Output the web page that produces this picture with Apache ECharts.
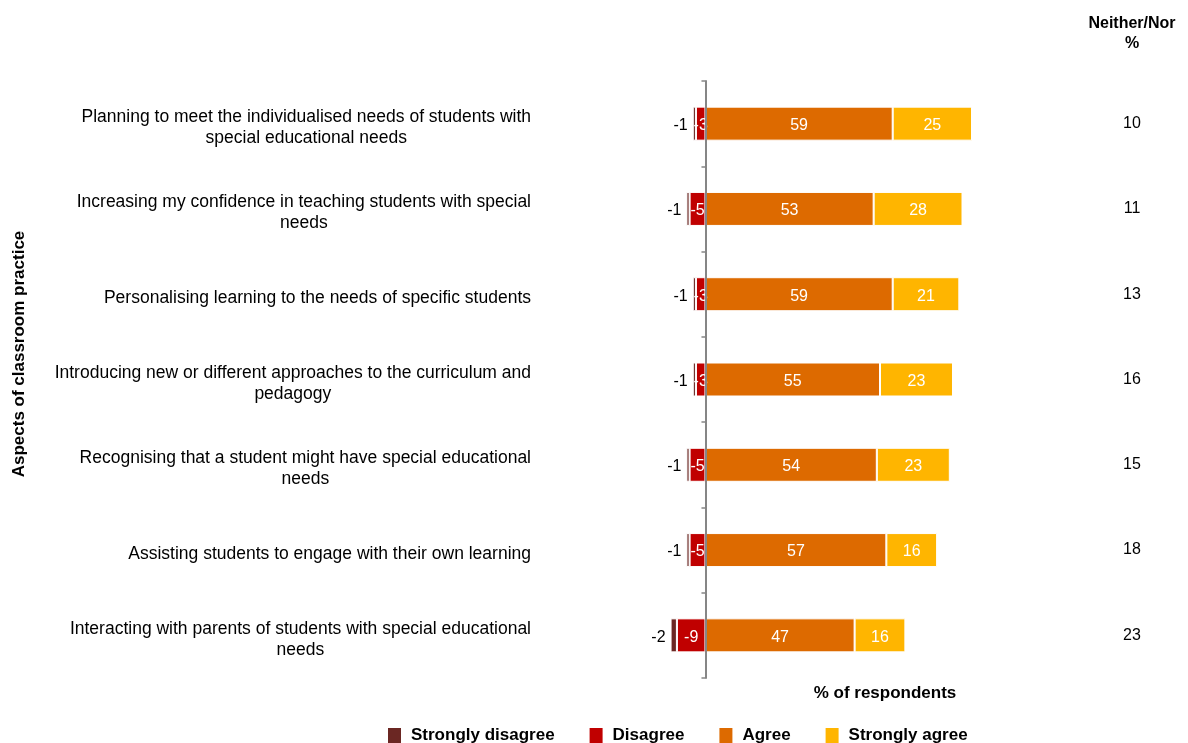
<!DOCTYPE html>
<html>
<head>
<meta charset="utf-8">
<script src="https://cdn.jsdelivr.net/npm/echarts@6/dist/echarts.min.js"></script>
<style>
  html, body { margin: 0; padding: 0; background: #fff; }
  #chart { width: 1188px; height: 743px; }
</style>
</head>
<body>
<div id="chart"></div>
<script>
// Aspects of classroom practice (category labels, line breaks as displayed)
const categories = [
  'Planning to meet the individualised needs of students with\nspecial educational needs',
  'Increasing my confidence in teaching students with special\nneeds',
  'Personalising learning to the needs of specific students',
  'Introducing new or different approaches to the curriculum and\npedagogy',
  'Recognising that a student might have special educational\nneeds',
  'Assisting students to engage with their own learning',
  'Interacting with parents of students with special educational\nneeds'
];

// % of respondents per response
const stronglyDisagree = [-1, -1, -1, -1, -1, -1, -2];
const disagree         = [-3, -5, -3, -3, -5, -5, -9];
const agree            = [59, 53, 59, 55, 54, 57, 47];
const stronglyAgree    = [25, 28, 21, 23, 23, 16, 16];
const neitherNor       = [10, 11, 13, 16, 15, 18, 23];

const FONT = '"Liberation Sans", Arial, sans-serif';

const chart = echarts.init(document.getElementById('chart'));

const inside = {
  show: true, position: 'inside', color: '#fff', offset: [0, 2],
  fontFamily: FONT, fontSize: 16
};

function barSeries(name, data, color, label) {
  return {
    name: name, type: 'bar', stack: 'resp', data: data,
    barWidth: 34, z: 2,
    itemStyle: { color: color, borderColor: '#fff', borderWidth: 1 },
    label: label,
    emphasis: { disabled: true }
  };
}

chart.setOption({
  animation: false,
  backgroundColor: '#fff',
  textStyle: { fontFamily: FONT },
  grid: { left: 642, width: 476, top: 81, height: 597 },
  xAxis: {
    type: 'value', min: -20, max: 130, show: false
  },
  yAxis: [
    {
      type: 'category', inverse: true, data: categories, z: 5,
      axisLine: { show: true, onZero: true, lineStyle: { color: '#868686', width: 2 } },
      axisTick: { show: true, length: 4, lineStyle: { color: '#868686', width: 1.5 } },
      axisLabel: {
        margin: 111, align: 'right', padding: [8, 0, 0, 0],
        formatter: function (v) {
          return v.split('\n').map(function (l) { return '{c|' + l + '}'; }).join('\n');
        },
        rich: { c: { align: 'center', fontFamily: FONT, fontSize: 17.5, lineHeight: 21, color: '#000' } }
      },
      splitLine: { show: false }
    },
    {
      type: 'category', inverse: true, position: 'right',
      data: neitherNor.map(String),
      axisLine: { show: false, onZero: false },
      axisTick: { show: false },
      axisLabel: { margin: 14, align: 'center', fontFamily: FONT, fontSize: 16, color: '#000' },
      splitLine: { show: false }
    }
  ],
  legend: {
    data: ['Strongly disagree', 'Disagree', 'Agree', 'Strongly agree'],
    left: 388, top: 727, padding: 0, orient: 'horizontal',
    icon: 'rect', itemWidth: 13, itemHeight: 15, itemGap: 35,
    itemStyle: { borderWidth: 0 },
    textStyle: { fontFamily: FONT, fontSize: 17, fontWeight: 'bold', color: '#000', padding: [0, 0, 0, 5] },
    selectedMode: false
  },
  graphic: [
    {
      type: 'text', x: 1132, y: 14,
      style: { text: 'Neither/Nor\n%', align: 'center', lineHeight: 20,
               fontFamily: FONT, fontSize: 16, fontWeight: 'bold', fill: '#000' }
    },
    {
      type: 'text', x: 885, y: 685,
      style: { text: '% of respondents', align: 'center',
               fontFamily: FONT, fontSize: 17, fontWeight: 'bold', fill: '#000' }
    },
    {
      type: 'text', x: 11, y: 354, rotation: Math.PI / 2,
      style: { text: 'Aspects of classroom practice', align: 'center', verticalAlign: 'top',
               fontFamily: FONT, fontSize: 17, fontWeight: 'bold', fill: '#000' }
    }
  ],
  series: [
    barSeries('Disagree', disagree, '#C00000', inside),
    barSeries('Strongly disagree', stronglyDisagree, '#6B2723',
      { show: true, position: 'left', distance: 5, offset: [0, 2], color: '#000', fontFamily: FONT, fontSize: 16 }),
    barSeries('Agree', agree, '#DD6A00', inside),
    barSeries('Strongly agree', stronglyAgree, '#FFB500', inside)
  ]
});
</script>
</body>
</html>
